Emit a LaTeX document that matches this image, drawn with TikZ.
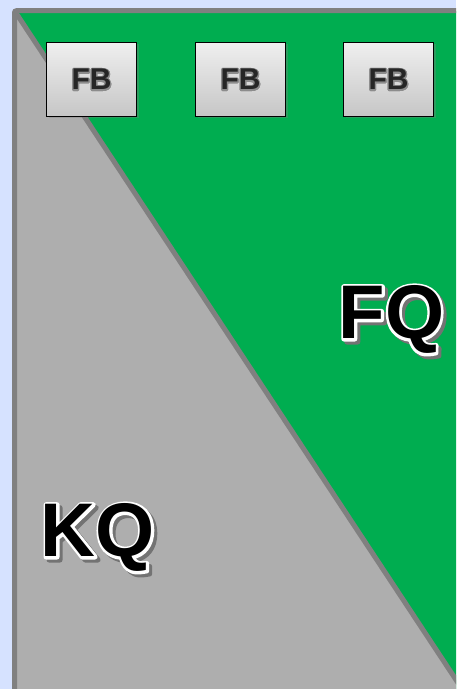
\documentclass[tikz,border=0pt]{standalone}
\usepackage{fontspec}
\setmainfont{Liberation Sans}
\usetikzlibrary{positioning,shadows}

\definecolor{slideblue}{HTML}{D6E2FF}
\definecolor{frontgreen}{HTML}{00AD50}
\definecolor{keygray}{HTML}{AEAEAE}
\definecolor{edgegray}{HTML}{808080}
\definecolor{boxtop}{HTML}{EFEFEF}
\definecolor{boxbottom}{HTML}{C6C6C6}

% stroked copy behind the letters: #1 colour, #2 stroke width (bp), #3 text
\newcommand{\strokecopy}[3]{%
  \rlap{\color{#1}\special{pdf:literal direct 2 Tr #2 w 1 j}#3\special{pdf:literal direct 0 Tr 1 w}}%
}
% word with halo and shadow: #1 halo, #2 halo width, #3 shadow shift, #4 letters, #5 text
\newcommand{\haloword}[5]{%
  \rlap{\hspace*{#3}\raisebox{-#3}{\strokecopy{black!55}{#2}{#5}}}%
  \strokecopy{#1}{#2}{#5}%
  {\color{#4}#5}%
}

\begin{document}
\begin{tikzpicture}[x=1pt,y=1pt,
    fbbox/.style={draw=black, line width=1pt, top color=boxtop, bottom color=boxbottom,
      minimum width=90pt, minimum height=74pt, inner sep=0pt,
      drop shadow={shadow xshift=2pt, shadow yshift=-2pt, opacity=0.35},
      font=\fontsize{30}{30}\selectfont\bfseries},
    labelword/.style={anchor=base, inner sep=0pt, font=\fontsize{76}{76}\selectfont\bfseries}]

    % --- Page and Frame ---
    \useasboundingbox (0,0) rectangle (456,689);
    \fill[slideblue] (0,0) rectangle (456,689);
    \coordinate (corner) at (14.5,678.3);
    \coordinate (far) at (470,-12);
    \begin{scope}
        \clip (0,0) rectangle (456,689);
        % green front part, gray key part below the diagonal
        \fill[frontgreen] (14.5,-20) rectangle (480,678.3);
        \fill[keygray] (corner) -- (far) -- (14.5,-12) -- cycle;
        \draw[edgegray, line width=5pt] (corner) -- (far);
        \draw[edgegray, line width=5pt, rounded corners=2pt] (14.5,-20) -- (corner) -- (480,678.3);
    \end{scope}

    % --- FB Boxes ---
    \node[fbbox] (fb1) at (91.5,609.5) {\haloword{black!45}{2.5}{0pt}{black!85}{FB}};
    \node[fbbox, right=58pt of fb1] (fb2) {\haloword{black!45}{2.5}{0pt}{black!85}{FB}};
    \node[fbbox, right=57pt of fb2] (fb3) {\haloword{black!45}{2.5}{0pt}{black!85}{FB}};

    % --- Area Labels ---
    \node[labelword] (fq) at (391.5,350) {\haloword{white}{5}{3pt}{black}{FQ}};
    \node[labelword] (kq) at (98,132) {\haloword{white}{5}{3pt}{black}{KQ}};

\end{tikzpicture}
\end{document}
